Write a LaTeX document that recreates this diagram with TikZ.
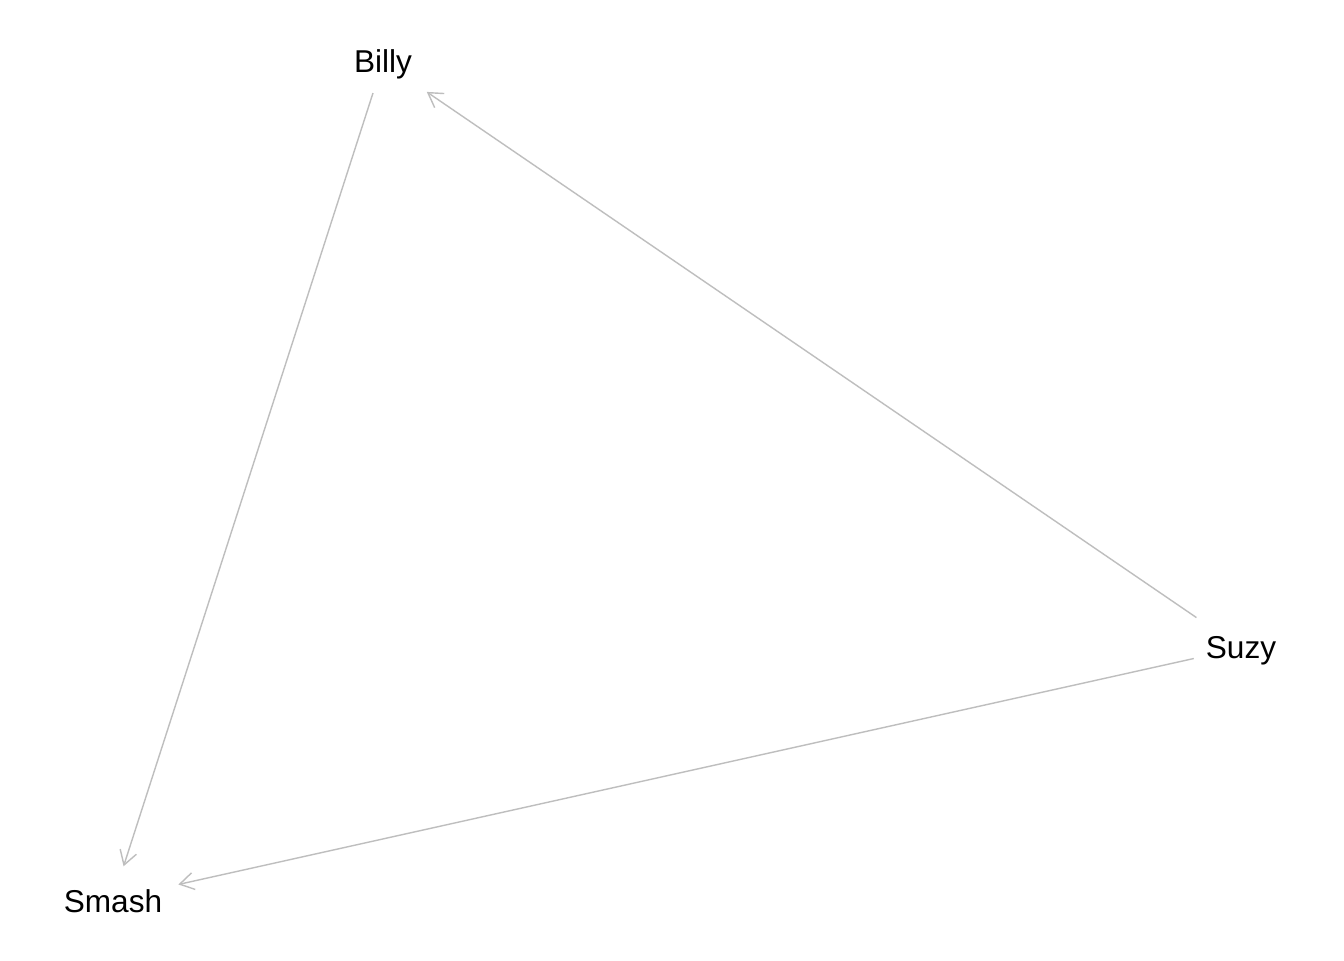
\documentclass[tikz,border=0pt]{standalone}
\usepackage{fontspec}
\setmainfont{Liberation Sans}
\usetikzlibrary{arrows.meta}
\definecolor{edgegray}{RGB}{190,190,190}
\begin{document}
\begin{tikzpicture}[x=0.5pt,y=-0.5pt,
  vlabel/.style={inner sep=0pt,yshift=-1.3pt,font=\fontsize{15.8pt}{18pt}\selectfont},
  edge/.style={draw=edgegray,line width=0.7pt,-{Straight Barb[length=7pt,width=8.5pt]}}]
\useasboundingbox[fill=white] (0,0) rectangle (1344,960);
\node[vlabel] (billy) at (383,62) {Billy};
\node[vlabel] (suzy) at (1241,648) {Suzy};
\node[vlabel] (smash) at (113,899) {Smash};
\draw[edge,shorten <=16.3pt,shorten >=17.2pt] ([yshift=1.3pt]billy.center) -- ([yshift=1.3pt]smash.center);
\draw[edge,shorten <=27pt,shorten >=26.5pt] ([yshift=1.3pt]suzy.center) -- ([yshift=1.3pt]billy.center);
\draw[edge,shorten <=24.2pt,shorten >=33.5pt] ([yshift=1.3pt]suzy.center) -- ([yshift=1.3pt]smash.center);
\end{tikzpicture}
\end{document}
